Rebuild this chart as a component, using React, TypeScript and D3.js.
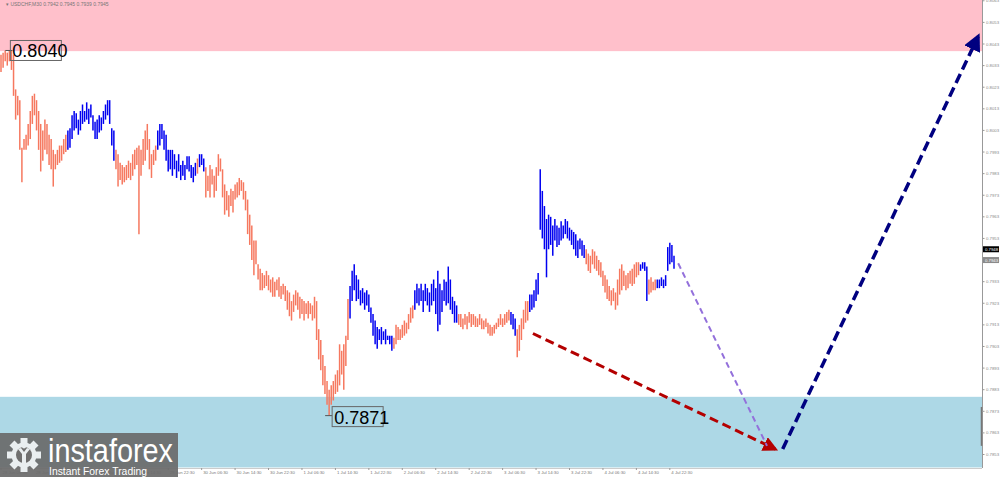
import React from 'react';
import * as d3 from 'd3';

const W = 1000;
const H = 479;
const PLOT_RIGHT = 982;
const PLOT_BOTTOM = 468;

const headerText = '\u25BE USDCHF,M30  0.7942 0.7945 0.7939 0.7945';

// Price bars (pips, 0.0001 units), grouped by wave; direction gives the colour
const waveDirs = ['down','up','down','up','down','up','down','up','down','up','down','up','down','up','down','up','down','up'];
const waveHighs: number[][] = [
  [8038,8039,8040,8039,8040,8040,8038,8022,8019,8017,7995,7999,8001,8006,8012,8019,8020,8017,8012,8006,8003,8008,8006,8001,7999,7994,7992,7994,7996,7996,7999,8001],
  [8003,8004,8010,8012,8011,8008,8012,8015,8012,8016,8013,8015,8010,8007,8008,8010,8009,8012,8015,8017,8017,8004,8003],
  [7994,7992,7988,7987,7986,7987,7989,7988,7992,7994,7995,7996,7994,7999,8003,8006,7999,7992,7994,7996],
  [8003,8006,8006,8003,8001,7994,7994,7994,7992,7989,7992,7987,7989,7987,7991,7991,7987,7986,7988],
  [7990],
  [7992,7992,7990],
  [7986,7982,7987,7985,7982,7986,7992,7990,7985,7978,7975,7973,7976,7975,7978,7979,7981,7980,7979,7975,7971,7964,7959,7952,7952,7941,7939,7937,7936,7938,7936,7934,7935,7933,7934,7935,7931,7932,7931,7929,7928,7924,7927,7929,7928,7926,7925,7924,7923,7924,7923,7922,7926,7924,7911,7906,7899,7894,7887,7883,7885,7887,7890,7892,7904,7901,7904,7908,7925],
  [7931,7938,7941,7936,7934,7929,7930,7928,7929,7927,7921,7918,7915,7912,7911,7912,7910,7911,7908,7908,7908],
  [7907,7913,7912,7911,7913,7915,7914,7918,7921,7922],
  [7929,7932,7930,7932,7929,7932,7930,7928,7932,7934,7930,7938,7932,7929,7934,7933,7940,7934,7926,7924,7922],
  [7918,7918,7916,7918,7917,7919,7918,7918,7917,7916,7918,7916,7915,7916,7914,7913,7912,7913,7914,7916,7918,7916,7918,7919,7920],
  [7919,7918,7916],
  [7911,7913,7916,7920,7924,7924],
  [7927,7927,7929,7934,7937,7985,7975,7968,7962,7964,7963,7959,7962,7959,7958,7961,7959,7962,7961,7958,7957,7956,7955,7952,7953,7952,7950],
  [7948,7946,7945,7948,7947,7945,7943,7942,7938,7936,7934,7931,7929,7930,7928,7934,7939,7941,7938,7936,7937,7938,7939,7941,7942,7942],
  [7941,7942,7942,7940],
  [7934,7935,7933,7934],
  [7934,7934,7935,7934,7936,7949,7951,7950,7945],
];
const waveLows: number[][] = [
  [8030,8032,8035,8033,8035,8031,8019,8008,8010,7994,7979,7994,7994,7996,7999,8006,8010,8003,7994,7984,7989,7994,7992,7987,7985,7977,7985,7987,7988,7989,7992,7993],
  [7994,7995,7999,8003,8004,8001,8003,8006,8007,8008,8006,8009,8003,7999,7999,8002,8003,8006,8008,8010,8006,7996,7989],
  [7985,7977,7980,7978,7979,7980,7981,7980,7982,7985,7987,7955,7982,7987,7989,7994,7985,7981,7987,7989],
  [7994,7996,7999,7994,7989,7984,7985,7982,7985,7981,7984,7980,7982,7980,7985,7984,7981,7979,7982],
  [7983],
  [7986,7987,7984],
  [7972,7975,7972,7978,7972,7975,7982,7984,7972,7964,7966,7963,7968,7965,7971,7972,7973,7975,7971,7966,7955,7950,7943,7936,7941,7934,7929,7929,7930,7931,7929,7928,7926,7926,7929,7926,7925,7927,7924,7920,7917,7915,7919,7922,7920,7916,7918,7915,7918,7916,7918,7915,7916,7906,7897,7892,7885,7881,7876,7871,7876,7878,7881,7882,7885,7890,7883,7894,7906],
  [7916,7924,7929,7924,7925,7922,7923,7920,7922,7919,7914,7908,7904,7902,7906,7904,7906,7904,7906,7904,7901],
  [7902,7904,7906,7906,7907,7908,7909,7911,7914,7916],
  [7920,7923,7922,7924,7919,7924,7922,7919,7922,7924,7918,7910,7913,7919,7924,7922,7923,7920,7918,7914,7914],
  [7913,7912,7911,7913,7911,7914,7912,7913,7912,7912,7913,7911,7911,7912,7909,7908,7908,7909,7911,7912,7913,7912,7913,7914,7915],
  [7913,7911,7908],
  [7898,7901,7906,7911,7914,7915],
  [7919,7920,7921,7924,7927,7957,7953,7948,7935,7948,7950,7945,7952,7949,7950,7952,7953,7955,7953,7952,7950,7948,7945,7944,7948,7945,7944],
  [7941,7938,7937,7941,7939,7938,7936,7935,7931,7928,7925,7924,7922,7924,7920,7922,7927,7929,7931,7929,7930,7932,7931,7932,7935,7936],
  [7938,7939,7938,7924],
  [7927,7928,7929,7929],
  [7930,7930,7931,7930,7931,7938,7941,7942,7939],
];

const priceTickLabels = ['0.7853','0.7863','0.7873','0.7883','0.7893','0.7903','0.7913','0.7923','0.7933','0.7943','0.7953','0.7963','0.7973','0.7983','0.7993','0.8003','0.8013','0.8023','0.8033','0.8043','0.8053','0.8063'];
const timeTickIdx = [0,16,32,48,64,80,96,112,128,144,160,176,192,208,224,240,256,272,288,304,320];
const timeTickLabels = ['28 Jun 06:30','28 Jun 14:30','28 Jun 22:30','29 Jun 06:30','29 Jun 14:30','29 Jun 22:30','30 Jun 06:30','30 Jun 14:30','30 Jun 22:30','1 Jul 06:30','1 Jul 14:30','1 Jul 22:30','2 Jul 06:30','2 Jul 14:30','2 Jul 22:30','3 Jul 06:30','3 Jul 14:30','3 Jul 22:30','4 Jul 06:30','4 Jul 14:30','4 Jul 22:30'];

// zones (price)
const resistanceZone = [0.80397, 0.8066];
const supportZone = [0.78470, 0.78797];

// extreme labels [bar index, price]
const extremeLabels: [number, number, string][] = [[4, 0.8040, '0.8040'], [157, 0.7871, '0.7871']];

// forecast arrows [bar index, price]
const redArrow = [[254.5, 0.7909], [370.5, 0.78555]];
const purpleLine = [[324, 0.79415], [366.5, 0.7857]];
const navyArrow = [[374, 0.78555], [467.5, 0.80465]];

const lastPrices = [{ v: '0.7948', bg: '#000000' }, { v: '0.7943', bg: '#8a8a8a' }];

const SALMON = '#F6785F';
const BLUE = '#0000F0';

const bars: { i: number; h: number; l: number; dir: string }[] = [];
{
  let idx = 0;
  waveHighs.forEach((hs, w) => {
    hs.forEach((h, k) => {
      bars.push({ i: idx++, h: h / 10000, l: waveLows[w][k] / 10000, dir: waveDirs[w] });
    });
  });
}

const y = d3.scaleLinear().domain([0.7853, 0.8043]).range([454.5, 44]);
const x = d3.scaleLinear().domain([0, 322]).range([1, 674]);

const FONT = 'Arial, "Liberation Sans", sans-serif';

function Gear({ cx, cy }: { cx: number; cy: number }) {
  const teeth = d3.range(8).map((k) => k * 45);
  return (
    <g transform={`translate(${cx},${cy})`} fill="#e9eef0">
      {teeth.map((a) => (
        <rect key={a} x={-3.5} y={-17} width={7} height={8} transform={`rotate(${a})`} />
      ))}
      <circle r={12.5} />
      <circle r={8} fill="#6f6f6f" />
      <path d="M-6,-6 L-2,-1 L-2,9 L2,9 L2,-1 L6,-6 L3,-7 L0,-3 L-3,-7 Z" fill="#e9eef0" />
      <circle cx={0} cy={-8.5} r={2} fill="#e9eef0" />
    </g>
  );
}

export default function App() {
  const redPts = redArrow.map(([i, p]) => [x(i), y(p)]);
  const purPts = purpleLine.map(([i, p]) => [x(i), y(p)]);
  const navPts = navyArrow.map(([i, p]) => [x(i), y(p)]);
  const line = d3.line();
  return (
    <svg width={W} height={H} style={{ position: 'fixed', left: 0, top: 0, background: '#fff' }} fontFamily={FONT}>
      <defs>
        <marker id="redHead" viewBox="0 0 10 10" refX="8" refY="5" markerWidth="5" markerHeight="5" orient="auto" markerUnits="strokeWidth">
          <path d="M0,0 L10,5 L0,10 Z" fill="#B40000" />
        </marker>
        <marker id="navyHead" viewBox="0 0 10 10" refX="8" refY="5" markerWidth="5" markerHeight="5" orient="auto" markerUnits="strokeWidth">
          <path d="M0,0 L10,5 L0,10 Z" fill="#000080" />
        </marker>
        <clipPath id="plot"><rect x={0} y={0} width={PLOT_RIGHT} height={PLOT_BOTTOM} /></clipPath>
      </defs>
      <rect x={0} y={0} width={W} height={H} fill="#fff" />
      <g clipPath="url(#plot)">
        <rect x={0} y={y(resistanceZone[1])} width={PLOT_RIGHT} height={y(resistanceZone[0]) - y(resistanceZone[1])} fill="#FFC0CB" />
        <rect x={0} y={y(supportZone[1])} width={PLOT_RIGHT} height={y(supportZone[0]) - y(supportZone[1])} fill="#ADD8E6" />
      </g>
      <text x={6} y={6} fontSize={5} fill="#777">{headerText}</text>
      {/* bars */}
      <g>
        {bars.map((b) => (
          <line key={b.i} x1={x(b.i)} x2={x(b.i)} y1={y(b.h)} y2={y(b.l)} stroke={b.dir === 'down' ? SALMON : BLUE} strokeWidth={1.5} />
        ))}
      </g>
      {/* extreme labels */}
      {extremeLabels.map(([i, p, t], k) => {
        const bx = x(i) + (k === 0 ? 1 : 3);
        const by = k === 0 ? y(p) - 10 : y(p) - 9;
        return (
          <g key={t}>
            <line x1={x(i) - 4} x2={x(i) + 3} y1={y(p)} y2={y(p)} stroke="#555" strokeWidth={1} />
            <rect x={bx} y={by} width={51} height={20} fill="none" stroke="#666" strokeWidth={1} />
            <text x={bx + 2} y={by + 17} fontSize={18} fill="#000">{t}</text>
          </g>
        );
      })}
      {/* forecast arrows */}
      <path d={line(redPts as any) || ''} stroke="#B40000" strokeWidth={3} strokeDasharray="9 5" fill="none" markerEnd="url(#redHead)" />
      <path d={line(purPts as any) || ''} stroke="#9370DB" strokeWidth={2} strokeDasharray="6 4" fill="none" />
      <path d={line(navPts as any) || ''} stroke="#000080" strokeWidth={3.5} strokeDasharray="10 5" fill="none" markerEnd="url(#navyHead)" />
      {/* right axis */}
      <line x1={PLOT_RIGHT + 0.5} x2={PLOT_RIGHT + 0.5} y1={0} y2={PLOT_BOTTOM} stroke="#999" />
      <line x1={PLOT_RIGHT - 0.5} x2={PLOT_RIGHT - 0.5} y1={y(0.7875)} y2={y(0.7857)} stroke="#777" strokeWidth={1.5} />
      {priceTickLabels.map((t) => (
        <g key={t}>
          <line x1={PLOT_RIGHT} x2={PLOT_RIGHT + 2.5} y1={y(+t)} y2={y(+t)} stroke="#999" />
          <text x={PLOT_RIGHT + 4} y={y(+t) + 1.5} fontSize={4.3} fill="#888">{t}</text>
        </g>
      ))}
      {lastPrices.map((lp) => (
        <g key={lp.v}>
          <rect x={PLOT_RIGHT + 1} y={y(+lp.v) - 3} width={16} height={6} fill={lp.bg} />
          <text x={PLOT_RIGHT + 3} y={y(+lp.v) + 1.5} fontSize={4.3} fill="#fff">{lp.v}</text>
        </g>
      ))}
      {/* bottom axis */}
      <line x1={0} x2={PLOT_RIGHT} y1={PLOT_BOTTOM + 0.5} y2={PLOT_BOTTOM + 0.5} stroke="#ccc" />
      {timeTickIdx.map((i, k) => (
        <g key={i}>
          <line x1={x(i)} x2={x(i)} y1={PLOT_BOTTOM} y2={PLOT_BOTTOM + 2} stroke="#999" />
          <text x={x(i) + 1.5} y={PLOT_BOTTOM + 6} fontSize={4.3} fill="#777">{timeTickLabels[k]}</text>
        </g>
      ))}
      {/* logo */}
      <g>
        <rect x={0} y={433} width={178} height={44} fill="#6b6b6b" opacity={0.93} />
        <Gear cx={24} cy={455} />
        <text x={48} y={462} fontSize={33} fill="#ffffff" textLength={125} lengthAdjust="spacingAndGlyphs">instaforex</text>
        <text x={49} y={475} fontSize={11.5} fill="#ffffff" textLength={98} lengthAdjust="spacingAndGlyphs">Instant Forex Trading</text>
      </g>
    </svg>
  );
}
